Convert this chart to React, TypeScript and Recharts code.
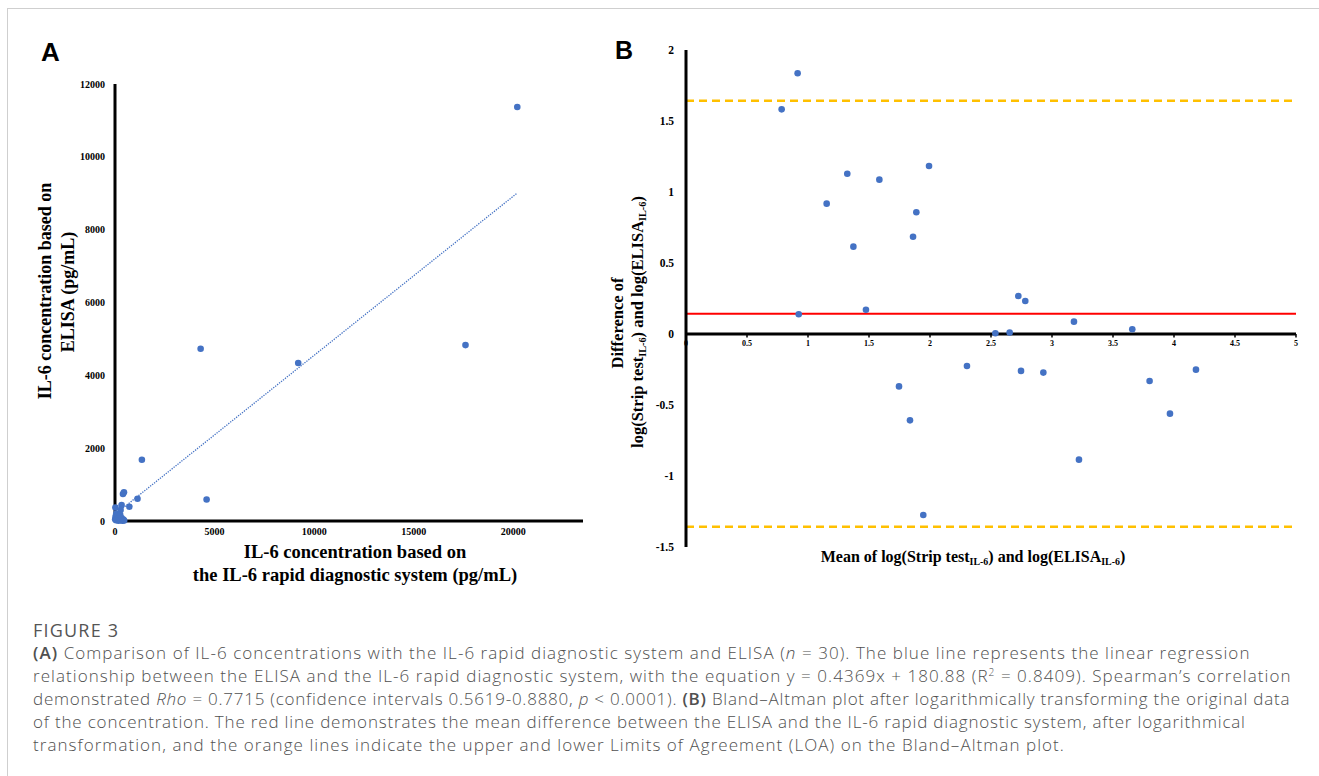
import React from "react";
import { ScatterChart, Scatter, XAxis, YAxis, ReferenceLine } from "recharts";

// Panel A: raw concentrations (pg/mL)
const rapidA = [20200, 17600, 4300, 9200, 4600, 1350, 1130, 400, 450, 720, 330, 20, 280, 10, 30, 50, 60, 80, 100, 120, 150, 180, 200, 230, 260, 300, 330, 380, 420, 460];
const elisaA = [11370, 4830, 4730, 4340, 590, 1680, 610, 740, 790, 390, 440, 370, 300, 50, 120, 20, 200, 90, 30, 150, 60, 10, 100, 40, 170, 20, 80, 10, 40, 15];
const xTicksA = [0, 5000, 10000, 15000, 20000];
const yTicksA = [0, 2000, 4000, 6000, 8000, 10000, 12000];
const regSlope = 0.4369;
const regIntercept = 180.88;

// Panel B: Bland-Altman on log values
const meanB = [0.784, 0.915, 1.322, 1.153, 1.585, 1.992, 1.888, 1.861, 1.372, 0.924, 1.475, 1.746, 1.836, 1.945, 2.724, 2.781, 3.18, 3.658, 2.536, 2.653, 2.303, 2.746, 2.929, 3.8, 4.18, 3.967, 3.221];
const diffB = [1.582, 1.836, 1.129, 0.918, 1.087, 1.183, 0.857, 0.685, 0.615, 0.139, 0.171, -0.369, -0.608, -1.275, 0.268, 0.232, 0.087, 0.033, 0.005, 0.01, -0.225, -0.26, -0.272, -0.331, -0.251, -0.561, -0.885];
const xTicksB = [0, 0.5, 1, 1.5, 2, 2.5, 3, 3.5, 4, 4.5, 5];
const yTicksB = [-1.5, -1, -0.5, 0, 0.5, 1, 1.5, 2];
const meanDiff = 0.143;
const upperLOA = 1.643;
const lowerLOA = -1.357;

const serif = "'Liberation Serif', 'Times New Roman', serif";
const sans = "'Open Sans', 'Noto Sans', sans-serif";
const blue = "#4472C4";

const yDomainB = [-1.5, 2];
const plotHB = 497;
const zeroShiftB = (plotHB * (0 - yDomainB[0])) / (yDomainB[1] - yDomainB[0]);

function Dot(props: any) {
  const { cx, cy } = props;
  if (cx == null || cy == null) return null;
  return <circle cx={cx} cy={cy} r={3.3} fill={blue} />;
}

// x ticks of panel B sit on the zero line, not at the bottom
function ZeroAxisTick(props: any) {
  const { x, y, payload } = props;
  const y0 = y - zeroShiftB;
  return (
    <g>
      <line x1={x} x2={x} y1={y0} y2={y0 + 3.5} stroke="#000" strokeWidth={1.5} />
      <text x={x} y={y0 + 12} textAnchor="middle" fontFamily={serif} fontWeight="bold" fontSize={8} fill="#000">
        {payload.value}
      </text>
    </g>
  );
}

const tickA = { fontFamily: serif, fontWeight: "bold", fontSize: 10, fill: "#000" } as any;
const tickB = { fontFamily: serif, fontWeight: "bold", fontSize: 11.5, fill: "#000" } as any;

const label: React.CSSProperties = {
  position: "absolute",
  fontFamily: serif,
  fontWeight: "bold",
  color: "#000",
  whiteSpace: "nowrap",
  lineHeight: 1,
};

function rot(x: number, y: number, size: number): React.CSSProperties {
  return { ...label, left: x, top: y, fontSize: size, transform: "translate(-50%, -50%) rotate(-90deg)" };
}
function hor(x: number, y: number, size: number): React.CSSProperties {
  return { ...label, left: x, top: y, fontSize: size, transform: "translate(-50%, -50%)" };
}

const sub = { fontSize: "0.62em", verticalAlign: "-0.3em" } as React.CSSProperties;

const capLine = (top: number, ls: number): React.CSSProperties => ({
  position: "absolute",
  left: 33,
  top,
  fontFamily: sans,
  fontSize: 17,
  letterSpacing: ls,
  fontWeight: 300,
  color: "#505050",
  whiteSpace: "nowrap",
  lineHeight: "20px",
  height: 20,
});

export default function App() {
  const dataA = rapidA.map((x, i) => ({ x, y: elisaA[i] }));
  const dataB = meanB.map((x, i) => ({ x, y: diffB[i] }));
  const regEnd = Math.max(...rapidA);

  return (
    <div style={{ position: "absolute", left: 0, top: 0, width: 1319, height: 776, background: "#fff", overflow: "hidden" }}>
      <div style={{ position: "absolute", left: 7, top: 8, width: 1400, height: 900, borderLeft: "1px solid #cfcfcf", borderTop: "1px solid #cfcfcf" }} />

      <div style={{ position: "absolute", left: 41, top: 37, fontFamily: "'Liberation Sans', Arial, sans-serif", fontWeight: "bold", fontSize: 26 }}>A</div>
      <div style={{ position: "absolute", left: 615, top: 36, fontFamily: "'Liberation Sans', Arial, sans-serif", fontWeight: "bold", fontSize: 25 }}>B</div>

      <div style={{ position: "absolute", left: 0, top: 0 }}>
        <ScatterChart width={600} height={560} margin={{ top: 84, right: 17, bottom: 9, left: 55 }}>
          <XAxis
            type="number"
            dataKey="x"
            domain={[0, 23500]}
            ticks={xTicksA}
            height={30}
            tickLine={false}
            axisLine={{ stroke: "#000", strokeWidth: 3 }}
            tick={tickA}
            tickMargin={1}
          />
          <YAxis
            type="number"
            dataKey="y"
            domain={[0, 12000]}
            ticks={yTicksA}
            width={60}
            tickLine={false}
            axisLine={{ stroke: "#000", strokeWidth: 3 }}
            tick={tickA}
            tickMargin={4}
          />
          <ReferenceLine
            segment={[
              { x: 0, y: regIntercept },
              { x: regEnd, y: regSlope * regEnd + regIntercept },
            ]}
            stroke={blue}
            strokeWidth={1.3}
            strokeDasharray="1.3 1.2"
          />
          <Scatter data={dataA} shape={<Dot />} isAnimationActive={false} />
        </ScatterChart>
      </div>

      <div style={{ position: "absolute", left: 590, top: 0 }}>
        <ScatterChart width={729} height={600} margin={{ top: 50, right: 23, bottom: 23, left: 56 }}>
          <XAxis
            type="number"
            dataKey="x"
            domain={[0, 5]}
            ticks={xTicksB}
            height={30}
            tickLine={false}
            axisLine={false}
            tickSize={0}
            tickMargin={0}
            tick={<ZeroAxisTick />}
            interval={0}
          />
          <YAxis
            type="number"
            dataKey="y"
            domain={yDomainB}
            ticks={yTicksB}
            width={40}
            tickLine={false}
            axisLine={{ stroke: "#000", strokeWidth: 3 }}
            tick={tickB}
            tickMargin={6}
            interval={0}
          />
          <ReferenceLine y={0} stroke="#000" strokeWidth={3} />
          <ReferenceLine y={upperLOA} stroke="#FFC000" strokeWidth={2.5} strokeDasharray="8 5" />
          <ReferenceLine y={lowerLOA} stroke="#FFC000" strokeWidth={2.5} strokeDasharray="8 5" />
          <ReferenceLine y={meanDiff} stroke="#FF0000" strokeWidth={2} />
          <Scatter data={dataB} shape={<Dot />} isAnimationActive={false} />
        </ScatterChart>
      </div>

      {/* axis titles, panel A */}
      <div style={rot(45, 291, 18)}>IL-6 concentration based on</div>
      <div style={rot(68, 292, 18)}>ELISA (pg/mL)</div>
      <div style={hor(355, 552, 18.5)}>IL-6 concentration based on</div>
      <div style={hor(355, 575, 18.5)}>the IL-6 rapid diagnostic system (pg/mL)</div>

      {/* axis titles, panel B */}
      <div style={rot(618, 323, 16.5)}>Difference of</div>
      <div style={rot(639, 322, 16.5)}>
        log(Strip test<span style={sub}>IL-6</span>) and log(ELISA<span style={sub}>IL-6</span>)
      </div>
      <div style={hor(973, 558, 16)}>
        Mean of log(Strip test<span style={sub}>IL-6</span>) and log(ELISA<span style={sub}>IL-6</span>)
      </div>

      {/* caption */}
      <div style={{ ...capLine(620, 1.2), fontSize: 18, fontWeight: 400, color: "#555" }}>FIGURE 3</div>
      <div style={capLine(643, 1.05)}>
        <b style={{ fontWeight: 600 }}>(A)</b> Comparison of IL-6 concentrations with the IL-6 rapid diagnostic system and ELISA (<i>n</i> = 30). The blue line represents the linear regression
      </div>
      <div style={capLine(666, 1.05)}>
        relationship between the ELISA and the IL-6 rapid diagnostic system, with the equation y = 0.4369x + 180.88 (R
        <span style={{ fontSize: "0.6em", position: "relative", top: "-0.6em" }}>2</span> = 0.8409). Spearman’s correlation
      </div>
      <div style={capLine(689, 0.76)}>
        demonstrated <i>Rho</i> = 0.7715 (confidence intervals 0.5619-0.8880, <i>p</i> &lt; 0.0001). <b style={{ fontWeight: 600 }}>(B)</b> Bland–Altman plot after logarithmically transforming the original data
      </div>
      <div style={capLine(712, 0.82)}>
        of the concentration. The red line demonstrates the mean difference between the ELISA and the IL-6 rapid diagnostic system, after logarithmical
      </div>
      <div style={capLine(735, 1.05)}>
        transformation, and the orange lines indicate the upper and lower Limits of Agreement (LOA) on the Bland–Altman plot.
      </div>
    </div>
  );
}
